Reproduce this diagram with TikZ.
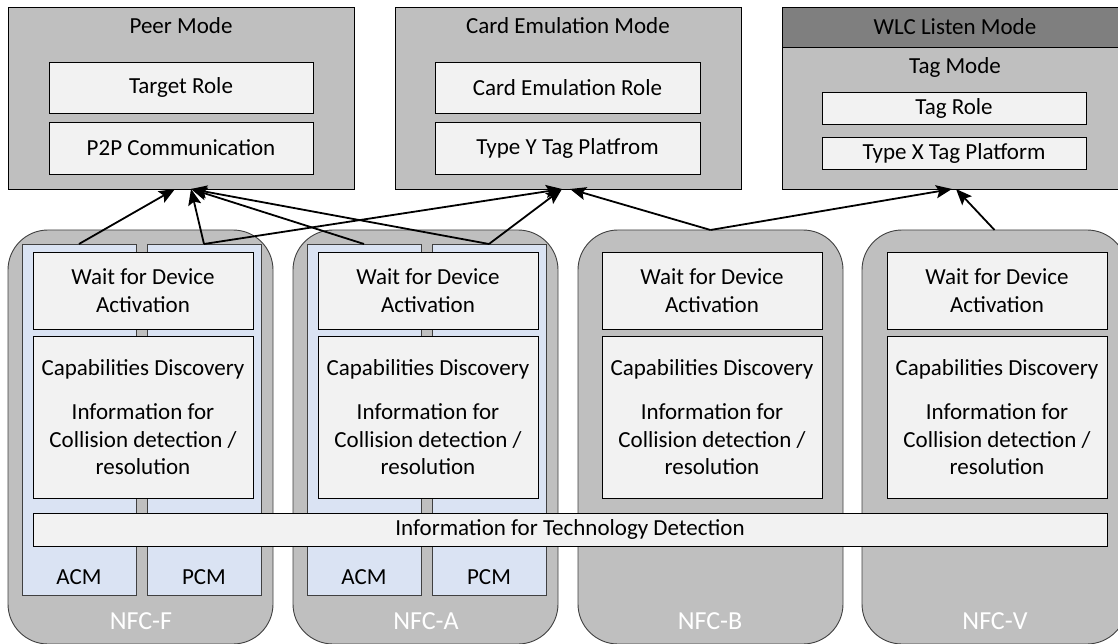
\documentclass[tikz,border=0pt]{standalone}
\usepackage{fontspec}
\setmainfont{Carlito}
\usetikzlibrary{arrows.meta,calc}
\definecolor{boxgray}{HTML}{BFBFBF}
\definecolor{innerfill}{HTML}{F2F2F2}
\definecolor{stripfill}{HTML}{DAE3F3}
\definecolor{headerfill}{HTML}{7F7F7F}
\definecolor{edgegray}{HTML}{404040}
\begin{document}
\begin{tikzpicture}[x=1pt,y=-1pt,
  txt/.style={font=\fontsize{23}{27.5}\selectfont, text=black, inner sep=0pt, align=center},
  modebox/.style={draw=black, fill=boxgray, line width=0.9pt, anchor=north west, inner sep=0pt, outer sep=0pt},
  headbox/.style={draw=black, fill=headerfill, line width=0.9pt, anchor=north west, inner sep=0pt, outer sep=0pt},
  rolebox/.style={draw=black, fill=innerfill, line width=0.9pt, anchor=north west, inner sep=0pt, outer sep=0pt, font=\fontsize{23}{27.5}\selectfont, align=center},
  colbox/.style={draw=edgegray, fill=boxgray, line width=0.9pt, rounded corners=40pt, anchor=north west, inner sep=0pt, outer sep=0pt, minimum width=265pt, minimum height=414pt},
  stripbox/.style={draw=edgegray, fill=stripfill, line width=0.9pt, anchor=north west, inner sep=0pt, outer sep=0pt, minimum width=114pt, minimum height=351pt},
  nfclabel/.style={font=\fontsize{26}{30}\selectfont, text=white, inner sep=0pt},
  arr/.style={line width=1.8pt, draw=black, -{Stealth[length=16pt,width=13pt,inset=3pt]}}
]
\useasboundingbox (0,0) rectangle (1118,644);

% ---------- technology columns ----------
\node[colbox] (colF) at (8,230) {};
\node[colbox] (colA) at (293,230) {};
\node[colbox] (colB) at (578,230) {};
\node[colbox] (colV) at (862,230) {};

% ACM / PCM strips
\node[stripbox] (facm) at (22,244) {};
\node[stripbox] (fpcm) at (147,244) {};
\node[stripbox] (aacm) at (307,244) {};
\node[stripbox] (apcm) at (432,244) {};
\node[txt] (facmt) at (79,577) {ACM};
\node[txt] (fpcmt) at (204,577) {PCM};
\node[txt] (aacmt) at (364,577) {ACM};
\node[txt] (apcmt) at (489,577) {PCM};

% inner boxes
\foreach \x/\n in {33/F,318/A,602/B,887/V}{
  \node[rolebox, minimum width=220pt, minimum height=77pt] (wait\n) at (\x,252)
    {Wait for Device\\Activation};
  \node[rolebox, minimum width=220pt, minimum height=162pt] (cap\n) at (\x,336)
    {Capabilities Discovery\\[17pt]Information for\\Collision detection /\\resolution};
}

% technology detection bar
\node[rolebox, minimum width=1074pt, minimum height=33pt] (tech) at (33,513)
  {Information for Technology Detection};

% NFC labels
\node[nfclabel] (lF) at (141,621) {NFC-F};
\node[nfclabel] (lA) at (426,621) {NFC-A};
\node[nfclabel] (lB) at (710,621) {NFC-B};
\node[nfclabel] (lV) at (995,621) {NFC-V};

% ---------- mode boxes ----------
\node[modebox, minimum width=346pt, minimum height=182pt] (peer) at (8,7) {};
\node[txt] (peert) at (181,26) {Peer Mode};
\node[rolebox, minimum width=264pt, minimum height=51pt] (target) at (49,62) {Target Role};
\node[rolebox, minimum width=264pt, minimum height=52pt] (p2p) at (49,122) {P2P Communication};

\node[modebox, minimum width=346pt, minimum height=182pt] (card) at (395,7) {};
\node[txt] (cardt) at (568,26) {Card Emulation Mode};
\node[rolebox, minimum width=265pt, minimum height=51pt] (cer) at (435,62) {Card Emulation Role};
\node[rolebox, minimum width=265pt, minimum height=52pt] (typey) at (435,122) {Type Y Tag Platfrom};

\node[modebox, minimum width=346pt, minimum height=182pt] (wlc) at (782,7) {};
\node[headbox, minimum width=346pt, minimum height=40pt] (wlch) at (782,7) {};
\node[txt] (wlct) at (955,27) {WLC Listen Mode};
\node[txt] (tagm) at (955,67) {Tag Mode};
\node[rolebox, minimum width=264pt, minimum height=32pt] (tagr) at (822,92) {Tag Role};
\node[rolebox, minimum width=264pt, minimum height=32pt] (typex) at (822,137) {Type X Tag Platform};

% ---------- connectors ----------
\draw[arr] (facm.north) -- ([xshift=-6pt]peer.south);
\draw[arr] (fpcm.north) -- ([xshift=10pt]peer.south);
\draw[arr] (aacm.north) -- ([xshift=10pt]peer.south);
\draw[arr] (apcm.north) -- ([xshift=10pt]peer.south);
\draw[arr] (fpcm.north) -- ([xshift=-6pt]card.south);
\draw[arr] (apcm.north) -- ([xshift=-6pt]card.south);
\draw[arr] (colB.north) -- ([xshift=2pt]card.south);
\draw[arr] (colB.north) -- ([xshift=-3pt]wlc.south);
\draw[arr] (colV.north) -- ([xshift=1pt]wlc.south);
\end{tikzpicture}
\end{document}
